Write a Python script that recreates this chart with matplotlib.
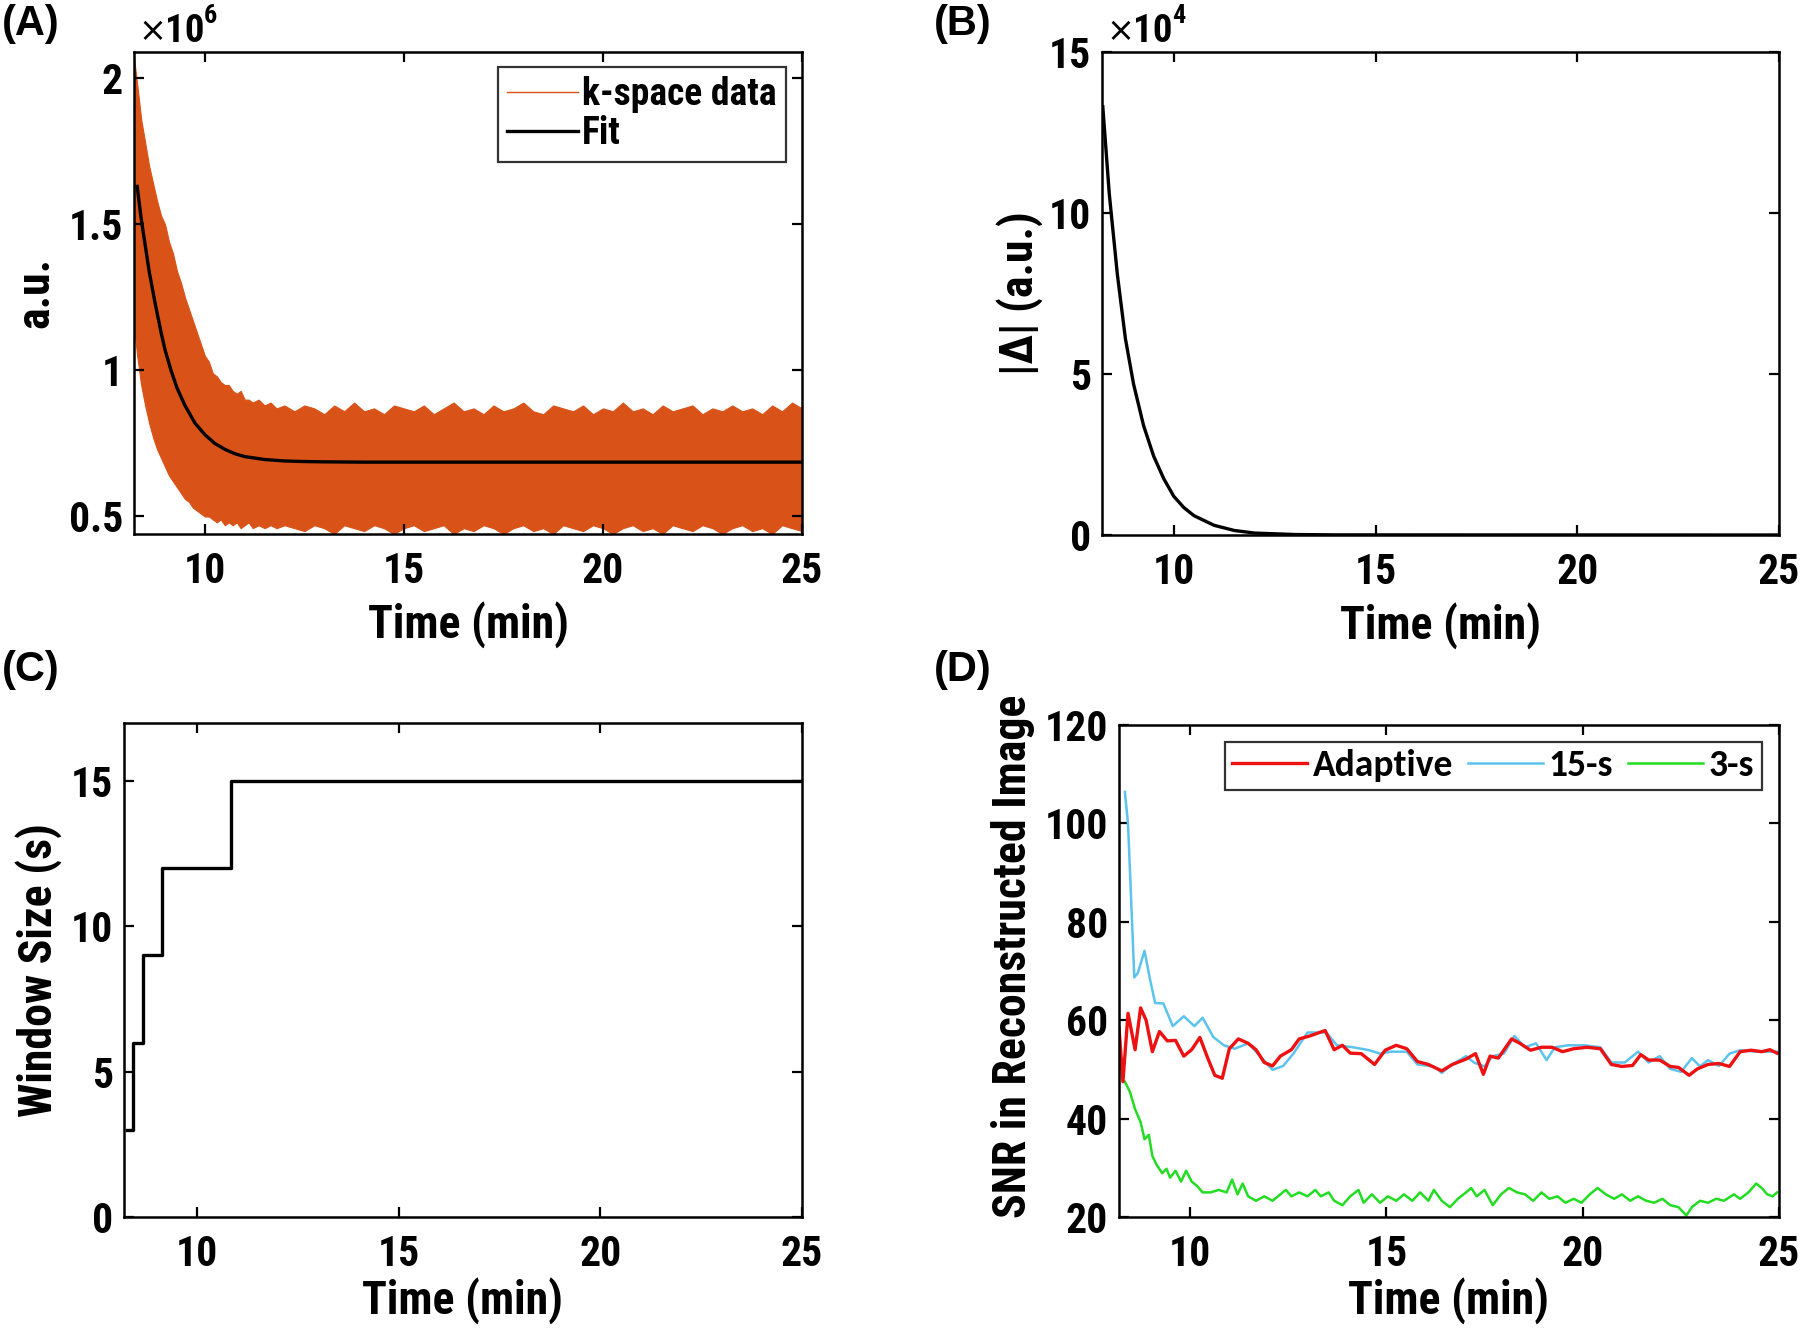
import matplotlib
matplotlib.use("Agg")
import matplotlib.pyplot as plt
from matplotlib.lines import Line2D
from matplotlib import font_manager

# --- fonts -------------------------------------------------------------
names = {f.name for f in font_manager.fontManager.ttflist}
narrow = [n for n in ["Liberation Sans Narrow", "Arial Narrow", "Roboto Condensed",
                      "Liberation Sans", "DejaVu Sans"] if n in names]
wide = [n for n in ["Liberation Sans", "Arimo", "DejaVu Sans"] if n in names]
legend_font = [n for n in ["Carlito", "Liberation Sans", "DejaVu Sans"] if n in names]
plt.rcParams["font.family"] = narrow
plt.rcParams["font.weight"] = "bold"

# --- (A) k-space data envelope and fit (x1e6) ---------------------------
k_x_decay = [8.22, 8.3, 8.4, 8.5, 8.6, 8.7, 8.8, 8.9, 9.0, 9.1,
             9.2, 9.3, 9.4, 9.5, 9.6, 9.7, 9.8, 9.9, 10.0, 10.1,
             10.2, 10.3, 10.4, 10.5, 10.6, 10.7, 10.8, 10.9, 11.0, 11.1,
             11.2, 11.35, 11.5, 11.65, 11.8, 12.0]
k_up_decay = [2.07, 1.98, 1.86, 1.78, 1.70, 1.64, 1.58, 1.53, 1.50, 1.44,
              1.40, 1.34, 1.30, 1.25, 1.21, 1.17, 1.13, 1.09, 1.05, 1.03,
              0.99, 0.98, 0.96, 0.95, 0.95, 0.93, 0.92, 0.93, 0.90, 0.90,
              0.89, 0.90, 0.88, 0.89, 0.87, 0.88]
k_lo_decay = [1.15, 1.05, 0.95, 0.88, 0.82, 0.77, 0.73, 0.70, 0.67, 0.64,
              0.62, 0.60, 0.58, 0.56, 0.55, 0.53, 0.52, 0.51, 0.50, 0.50,
              0.49, 0.48, 0.49, 0.47, 0.48, 0.47, 0.48, 0.46, 0.47, 0.48,
              0.46, 0.47, 0.46, 0.47, 0.46, 0.47]
# plateau 12.25 .. 25 min, every 0.25 min
k_up_flat = [0.86, 0.88, 0.87, 0.85, 0.88, 0.86, 0.89, 0.86, 0.87, 0.85,
             0.88, 0.87, 0.86, 0.88, 0.85, 0.87, 0.89, 0.86, 0.87, 0.85,
             0.88, 0.86, 0.87, 0.89, 0.86, 0.85, 0.88, 0.87, 0.86, 0.88,
             0.85, 0.87, 0.86, 0.89, 0.86, 0.87, 0.85, 0.88, 0.86, 0.87,
             0.88, 0.85, 0.87, 0.86, 0.88, 0.86, 0.87, 0.85, 0.88, 0.86,
             0.89, 0.87]
k_lo_flat = [0.46, 0.45, 0.47, 0.46, 0.44, 0.47, 0.46, 0.45, 0.47, 0.46,
             0.44, 0.46, 0.47, 0.45, 0.46, 0.47, 0.44, 0.46, 0.45, 0.47,
             0.46, 0.44, 0.46, 0.47, 0.45, 0.46, 0.44, 0.47, 0.46, 0.45,
             0.47, 0.46, 0.44, 0.46, 0.47, 0.45, 0.46, 0.44, 0.47, 0.46,
             0.45, 0.47, 0.46, 0.44, 0.46, 0.47, 0.45, 0.46, 0.44, 0.47,
             0.46, 0.45]
k_x_flat = [12.25 + 0.25 * i for i in range(len(k_up_flat))]

fit_x = [8.3, 8.4, 8.5, 8.6, 8.75, 8.9, 9.0, 9.15, 9.3, 9.5, 9.75, 10.0, 10.25, 10.5,
         10.75, 11.0, 11.5, 12.0, 12.5, 13.0, 14.0, 25.0]
fit_y = [1.63, 1.52, 1.43, 1.34, 1.23, 1.13, 1.07, 1.00, 0.94, 0.88, 0.82, 0.78,
         0.75, 0.73, 0.715, 0.705, 0.695, 0.690, 0.688, 0.687, 0.686, 0.686]

# --- (B) |delta| (x1e4) ---------------------------------------------------
dx = [8.24, 8.4, 8.6, 8.8, 9.0, 9.25, 9.5, 9.75, 10.0, 10.25, 10.5, 11.0, 11.5,
      12.0, 13.0, 14.0, 25.0]
dy = [13.3, 10.6, 8.1, 6.1, 4.7, 3.4, 2.45, 1.75, 1.2, 0.85, 0.6, 0.3, 0.14,
      0.06, 0.015, 0.004, 0.0]

# --- (C) window size steps ------------------------------------------------
step_edges = [8.25, 8.41, 8.65, 9.13, 10.83, 25.0]
step_vals = [3, 6, 9, 12, 15]

# --- (D) SNR ------------------------------------------------------------
ad_x = [8.19, 8.29, 8.42, 8.6, 8.74, 8.88, 9.04, 9.22, 9.42, 9.63, 9.84, 10.04,
        10.25, 10.45, 10.63, 10.82, 11.0, 11.23, 11.48, 11.68, 11.89, 12.1, 12.3,
        12.58, 12.78, 13.05, 13.44, 13.67, 13.88, 14.08, 14.36, 14.7, 14.97, 15.25,
        15.52, 15.79, 16.07, 16.41, 16.68, 17.03, 17.27, 17.47, 17.64, 17.85, 18.19,
        18.4, 18.67, 18.95, 19.22, 19.49, 19.77, 20.11, 20.45, 20.73, 21.0, 21.27,
        21.48, 21.68, 21.96, 22.23, 22.44, 22.71, 22.92, 23.19, 23.47, 23.74, 24.01,
        24.29, 24.56, 24.77, 24.95]
ad_y = [58.4, 47.5, 61.4, 54.0, 62.5, 60.0, 53.6, 57.7, 55.8, 55.9, 52.7, 54.0,
        56.5, 52.3, 48.8, 48.2, 54.2, 56.2, 55.3, 54.0, 51.4, 50.7, 52.7, 54.0, 56.2,
        56.8, 57.9, 54.0, 54.9, 53.3, 53.2, 51.0, 53.9, 54.9, 54.2, 51.6, 51.0, 49.7,
        51.0, 52.1, 53.2, 49.0, 52.7, 52.3, 56.2, 55.3, 53.9, 54.5, 54.5, 53.6, 54.2,
        54.5, 54.2, 51.0, 50.6, 50.8, 53.0, 51.9, 51.9, 50.6, 50.4, 48.8, 50.1, 51.0,
        51.2, 50.6, 53.6, 53.9, 53.6, 54.0, 53.3]
s15_x = [8.34, 8.42, 8.58, 8.67, 8.84, 8.97, 9.11, 9.32, 9.56, 9.84, 10.11, 10.32,
         10.59, 10.86, 11.14, 11.48, 11.68, 12.1, 12.37, 12.64, 12.99, 13.47, 13.74,
         14.15, 14.56, 14.84, 15.11, 15.52, 15.79, 16.21, 16.41, 16.68, 17.03, 17.23,
         17.5, 17.71, 17.99, 18.26, 18.53, 18.81, 19.08, 19.29, 19.63, 20.04, 20.45,
         20.73, 21.07, 21.41, 21.68, 21.96, 22.23, 22.51, 22.78, 22.99, 23.19, 23.47,
         23.74, 24.01, 24.42, 24.95]
s15_y = [106.4, 99.9, 68.7, 69.6, 74.1, 68.7, 63.5, 63.4, 58.8, 60.8, 58.8, 60.5,
         56.6, 54.9, 54.2, 55.3, 53.6, 49.9, 50.7, 53.3, 57.5, 57.5, 54.9, 54.5, 53.9,
         53.2, 53.6, 53.6, 51.0, 50.6, 49.3, 51.0, 52.7, 51.4, 50.6, 52.7, 53.2, 56.8,
         54.5, 55.3, 51.9, 54.5, 54.9, 54.9, 54.5, 51.4, 51.4, 53.6, 51.4, 52.7, 50.1,
         49.5, 52.3, 50.6, 51.9, 50.7, 53.2, 53.9, 53.6, 53.6]
s3_x = [8.34, 8.47, 8.6, 8.74, 8.84, 8.95, 9.04, 9.15, 9.29, 9.4, 9.49, 9.63, 9.77,
        9.9, 10.04, 10.18, 10.32, 10.52, 10.73, 10.93, 11.07, 11.21, 11.34, 11.48,
        11.68, 11.89, 12.1, 12.3, 12.44, 12.58, 12.78, 12.99, 13.19, 13.33, 13.53,
        13.67, 13.88, 14.08, 14.29, 14.42, 14.63, 14.84, 15.04, 15.25, 15.45, 15.66,
        15.86, 16.07, 16.21, 16.41, 16.62, 16.82, 17.03, 17.16, 17.3, 17.5, 17.71,
        17.92, 18.12, 18.33, 18.53, 18.74, 18.95, 19.15, 19.36, 19.56, 19.77, 19.97,
        20.18, 20.38, 20.59, 20.8, 21.0, 21.21, 21.41, 21.62, 21.82, 22.03, 22.23,
        22.44, 22.64, 22.78, 22.99, 23.19, 23.4, 23.6, 23.85, 24.01, 24.22, 24.42,
        24.56, 24.7, 24.84, 24.95]
s3_y = [47.5, 45.4, 41.9, 39.3, 35.8, 36.7, 32.4, 30.6, 28.9, 29.8, 28.0, 29.4,
        27.2, 29.4, 27.2, 26.3, 25.0, 25.0, 25.5, 25.0, 27.6, 24.6, 26.8, 24.2, 23.3,
        24.2, 23.3, 24.6, 25.5, 24.2, 25.0, 24.2, 25.5, 24.2, 25.0, 23.3, 22.4, 24.2,
        25.5, 22.9, 24.6, 22.9, 24.2, 23.3, 24.6, 23.3, 25.0, 23.3, 25.5, 23.3, 22.0,
        23.7, 25.0, 25.9, 24.2, 25.5, 22.4, 24.6, 25.9, 25.0, 24.6, 23.3, 25.0, 23.7,
        24.2, 22.9, 23.7, 22.9, 24.6, 25.9, 24.6, 23.7, 24.6, 23.3, 24.2, 23.3, 22.9,
        23.7, 22.4, 22.0, 20.3, 22.0, 23.3, 22.9, 23.7, 23.3, 24.6, 23.7, 25.0, 26.8,
        25.9, 24.6, 24.2, 25.0]

orange = "#D95319"
W, H = 1800, 1328
TICK = 30
LAB = 33


def make_axes(fig, l, t, r, b):
    ax = fig.add_axes([l / W, 1 - b / H, (r - l) / W, (b - t) / H])
    for s in ax.spines.values():
        s.set_linewidth(1.8)
    ax.tick_params(direction="in", length=7, width=1.6, top=True, right=True,
                   labelsize=TICK)
    ax.tick_params(axis="x", pad=12)
    ax.tick_params(axis="y", pad=8)
    return ax


def times_ten(x, y, power):
    # MATLAB-style exponent label above the y axis
    fig.text(x / W, 1 - y / H, "\u00d7", fontsize=24, fontweight="normal",
             va="center", ha="left", family="DejaVu Sans")
    fig.text((x + 27) / W, 1 - y / H, "10", fontsize=28, fontweight="bold",
             va="center", ha="left")
    fig.text((x + 66) / W, 1 - (y - 16) / H, power, fontsize=19, fontweight="bold",
             va="center", ha="left")


def panel_label(x, y, s):
    fig.text(x / W, 1 - y / H, s, fontsize=30, fontweight="bold", va="center",
             family=wide)


fig = plt.figure(figsize=(18, 13.28), dpi=100)

# (A)
ax = make_axes(fig, 134, 52, 802, 534)
ax.fill_between(k_x_decay + k_x_flat, k_lo_decay + k_lo_flat, k_up_decay + k_up_flat,
                color=orange, lw=0.8, edgecolor=orange)
ax.plot(fit_x, fit_y, color="black", lw=2.4)
ax.set_xlim(8.22, 25)
ax.set_ylim(0.44, 2.09)
ax.set_xticks([10, 15, 20, 25])
ax.set_yticks([0.5, 1, 1.5, 2])
ax.set_yticklabels(["0.5", "1", "1.5", "2"])
ax.set_xlabel("Time (min)", fontsize=LAB, fontweight="bold", labelpad=7)
ax.set_ylabel("a.u.", fontsize=LAB, fontweight="bold", labelpad=8)
handles = [Line2D([], [], color=orange, lw=1), Line2D([], [], color="black", lw=2.4)]
leg = ax.legend(handles, ["k-space data", "Fit"], loc="upper right", fontsize=27,
                fancybox=False, edgecolor="black", handlelength=1.9,
                handletextpad=0.1, borderaxespad=0, labelspacing=0.05,
                borderpad=0.25, bbox_to_anchor=(1 - 16 / 668, 1 - 15 / 482))
leg.get_frame().set_linewidth(1.6)
times_ten(138, 32, "6")
panel_label(2, 24, "(A)")

# (B)
ax = make_axes(fig, 1102, 52, 1779, 535)
ax.plot(dx, dy, color="black", lw=2.4)
ax.set_xlim(8.22, 25)
ax.set_ylim(0, 15)
ax.set_xticks([10, 15, 20, 25])
ax.set_yticks([0, 5, 10, 15])
ax.set_xlabel("Time (min)", fontsize=LAB, fontweight="bold", labelpad=7)
ax.set_ylabel("|\u0394| (a.u.)", fontsize=LAB, fontweight="bold", labelpad=4)
times_ten(1106, 32, "4")
panel_label(934, 24, "(B)")

# (C)
ax = make_axes(fig, 124, 723, 802, 1217)
ax.step(step_edges, step_vals + [step_vals[-1]], where="post", color="black", lw=2.4)
ax.set_xlim(8.18, 25)
ax.set_ylim(0, 17)
ax.set_xticks([10, 15, 20, 25])
ax.set_yticks([0, 5, 10, 15])
ax.set_xlabel("Time (min)", fontsize=LAB, fontweight="bold", labelpad=2)
ax.set_ylabel("Window Size (s)", fontsize=LAB, fontweight="bold", labelpad=6)
panel_label(2, 670, "(C)")

# (D)
ax = make_axes(fig, 1119, 725, 1779, 1217)
ax.plot(s15_x, s15_y, color="#5CC3EE", lw=1.8, label="15-s")
ax.plot(s3_x, s3_y, color="#22DD22", lw=1.8, label="3-s")
ax.plot(ad_x, ad_y, color="#EE1111", lw=2.4, label="Adaptive")
ax.set_xlim(8.19, 25)
ax.set_ylim(20, 120)
ax.set_xticks([10, 15, 20, 25])
ax.set_yticks([20, 40, 60, 80, 100, 120])
ax.set_xlabel("Time (min)", fontsize=LAB, fontweight="bold", labelpad=2)
ax.set_ylabel("SNR in Reconstructed Image", fontsize=LAB, fontweight="bold",
              labelpad=6)
ax.yaxis.set_label_coords(-0.128, 0.53)
h, lab = ax.get_legend_handles_labels()
leg = ax.legend([h[2], h[0], h[1]], [lab[2], lab[0], lab[1]], loc="upper right",
                ncol=3, fancybox=False, edgecolor="black", handlelength=2.0,
                handletextpad=0.15, columnspacing=0.4, borderaxespad=0,
                borderpad=0.2, bbox_to_anchor=(1 - 17 / 660, 1 - 17 / 492),
                prop={"family": legend_font, "weight": "bold", "size": 27})
leg.get_frame().set_linewidth(1.6)
panel_label(934, 670, "(D)")

fig.savefig("out.png", dpi=100)
